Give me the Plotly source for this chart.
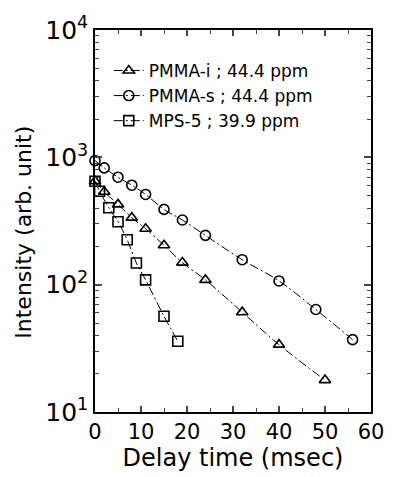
import plotly.graph_objects as go

# Data
pmma_i_x = [0, 2, 5, 8, 11, 15, 19, 24, 32, 40, 50]
pmma_i_y = [650, 536, 427, 336, 275, 204, 149, 109, 60.8, 33.8, 17.8]

pmma_s_x = [0, 2, 5, 8, 11, 15, 19, 24, 32, 40, 48, 56]
pmma_s_y = [942, 826, 698, 604, 511, 390, 322, 244, 157, 107, 63.8, 37]

mps_x = [0, 1, 3, 5, 7, 9, 11, 15, 18]
mps_y = [649, 542, 402, 312, 225, 148, 109, 56.5, 35.9]

names = ["PMMA-i ; 44.4 ppm", "PMMA-s ; 44.4 ppm", "MPS-5 ; 39.9 ppm"]
symbols = ["triangle-up-open", "circle-open", "square-open"]

ytickvals = [10, 100, 1000, 10000]
yticktext = ["10<sup>1</sup>", "10<sup>2</sup>", "10<sup>3</sup>", "10<sup>4</sup>"]
yminor = [m * d for d in (10, 100, 1000) for m in range(2, 10)]
xtickvals = [0, 10, 20, 30, 40, 50, 60]

FONT = "DejaVu Sans, Verdana, sans-serif"

fig = go.Figure()
for xs, ys, nm, sym in [(pmma_i_x, pmma_i_y, names[0], symbols[0]),
                        (pmma_s_x, pmma_s_y, names[1], symbols[1]),
                        (mps_x, mps_y, names[2], symbols[2])]:
    fig.add_trace(go.Scatter(
        x=xs, y=ys, name=nm, mode="lines+markers",
        line=dict(color="black", width=1, dash="9px,3px,2px,3px", shape="spline"),
        marker=dict(symbol=sym, size=10, color="black", line=dict(width=1.6, color="black")),
        cliponaxis=False,
    ))

fig.update_layout(
    width=396, height=477,
    margin=dict(l=95, r=14, t=28, b=65),
    paper_bgcolor="white", plot_bgcolor="white",
    font=dict(family=FONT, color="black", size=17),
    showlegend=True,
    legend=dict(x=0.05, y=0.94, xanchor="left", yanchor="top",
                bgcolor="rgba(0,0,0,0)",
                font=dict(size=17, family=FONT, color="black"),
                tracegroupgap=0, itemwidth=30),
    xaxis=dict(range=[0, 60], tickvals=xtickvals, ticks="inside", ticklen=6,
               tickwidth=1.5, showline=True, linecolor="black", linewidth=1.5,
               mirror="ticks", showgrid=False, zeroline=False,
               tickfont=dict(size=21, family=FONT),
               minor=dict(ticks="inside", ticklen=4, tickwidth=1.2, dtick=5, showgrid=False),
               title=dict(text="Delay time (msec)",
                          font=dict(size=24, family=FONT), standoff=4)),
    yaxis=dict(type="log", range=[1, 4], tickvals=ytickvals, ticktext=yticktext,
               ticks="inside", ticklen=7, tickwidth=1.5, showline=True, linecolor="black",
               linewidth=1.5, mirror="ticks", showgrid=False, zeroline=False,
               tickfont=dict(size=25, family=FONT),
               minor=dict(ticks="inside", ticklen=4, tickwidth=1.2, tickvals=yminor,
                          showgrid=False)),
    annotations=[dict(text="Intensity (arb. unit)", textangle=-90,
                      xref="paper", yref="paper", x=-0.26, y=0.47,
                      xanchor="center", yanchor="middle", showarrow=False,
                      font=dict(size=22, family=FONT))],
)

fig.write_html("out.html")
